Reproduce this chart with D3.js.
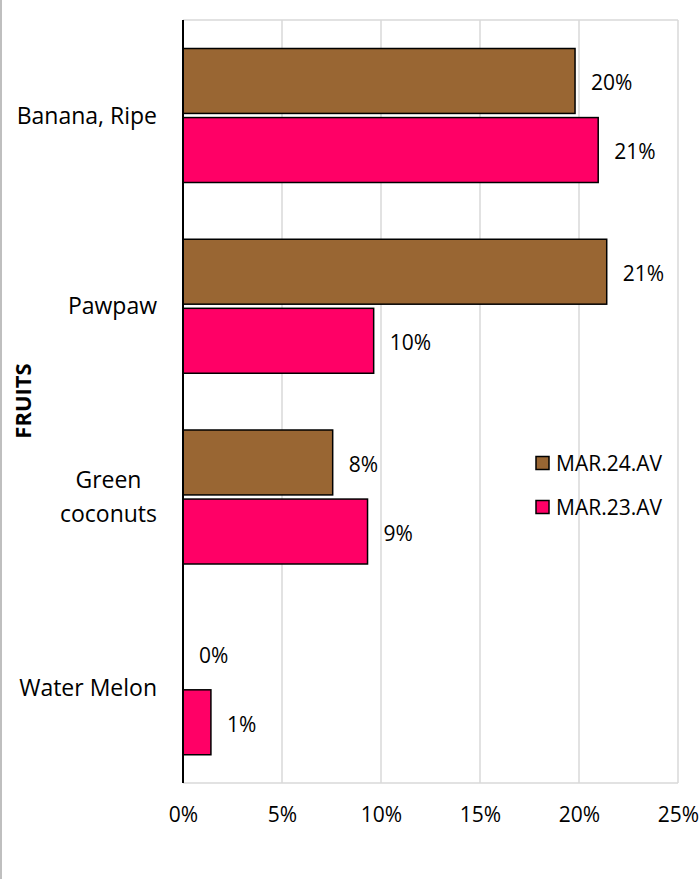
<!DOCTYPE html>
<html>
<head>
<meta charset="utf-8">
<script src="https://cdn.jsdelivr.net/npm/d3@7"></script>
<style>
  html, body { margin: 0; padding: 0; background: #fff; }
  svg { display: block; font-family: "Open Sans", "Noto Sans", sans-serif; }
</style>
</head>
<body>
<svg id="chart"></svg>
<script>
// fruits chart — MAR.24.AV vs MAR.23.AV, horizontal grouped bars

const CATEGORIES = ['Banana, Ripe', 'Pawpaw', 'Green coconuts', 'Water Melon'];
const CAT_LINES = [['Banana, Ripe'], ['Pawpaw'], ['Green', 'coconuts'], ['Water Melon']];
const SERIES = ['MAR.24.AV', 'MAR.23.AV'];
const MAR24 = [0.198, 0.214, 0.0756, 0.0];
const MAR23 = [0.2097, 0.0963, 0.0932, 0.0141];
const LABELS24 = ['20%', '21%', '8%', '0%'];
const LABELS23 = ['21%', '10%', '9%', '1%'];
const X_TICKS = [0, 0.05, 0.10, 0.15, 0.20, 0.25];
const COLORS = { 'MAR.24.AV': '#996633', 'MAR.23.AV': '#ff0066' };

const W = 700, H = 879;
const svg = d3.select('#chart').attr('width', W).attr('height', H);

// outer frame: only the left edge is visible in the reference
svg.append('line').attr('x1', 1).attr('x2', 1).attr('y1', 0).attr('y2', H)
    .attr('stroke', '#bfbfbf').attr('stroke-width', 2);

const x = d3.scaleLinear().domain([0, 0.25]).range([183, 678]);
const y0 = d3.scaleBand().domain(CATEGORIES).range([20, 783]);
const y1 = d3.scaleBand().domain(SERIES).range([28.5, 162.5]).paddingInner(0.06);

// ── Gridlines & plot border ─────────────────────────────────────────────
const grid = svg.append('g');
grid.selectAll('line.v').data(X_TICKS.slice(1)).join('line')
    .attr('x1', d => x(d)).attr('x2', d => x(d))
    .attr('y1', y0.range()[0]).attr('y2', y0.range()[1])
    .attr('stroke', '#d9d9d9').attr('stroke-width', 1.5);
grid.append('line')
    .attr('x1', x(0)).attr('x2', x(0.25)).attr('y1', 20).attr('y2', 20)
    .attr('stroke', '#d9d9d9').attr('stroke-width', 1.5);
grid.append('line')
    .attr('x1', x(0)).attr('x2', x(0.25)).attr('y1', 783).attr('y2', 783)
    .attr('stroke', '#d9d9d9').attr('stroke-width', 1.5);

// ── Bars ────────────────────────────────────────────────────────────────
const rows = [];
CATEGORIES.forEach((c, i) => {
    rows.push({ cat: c, s: 'MAR.24.AV', v: MAR24[i], label: LABELS24[i] });
    rows.push({ cat: c, s: 'MAR.23.AV', v: MAR23[i], label: LABELS23[i] });
});

svg.append('g').selectAll('rect').data(rows.filter(d => d.v > 0)).join('rect')
    .attr('x', x(0))
    .attr('y', d => y0(d.cat) + y1(d.s))
    .attr('width', d => x(d.v) - x(0))
    .attr('height', y1.bandwidth())
    .attr('fill', d => COLORS[d.s])
    .attr('stroke', '#000').attr('stroke-width', 1.5);

svg.append('g').selectAll('text').data(rows).join('text')
    .attr('x', d => x(d.v) + 16)
    .attr('y', d => y0(d.cat) + y1(d.s) + y1.bandwidth() / 2)
    .attr('dy', '0.45em')
    .attr('font-size', 21)
    .attr('fill', '#000')
    .text(d => d.label);

// ── Axes ────────────────────────────────────────────────────────────────
svg.append('line').attr('x1', x(0)).attr('x2', x(0)).attr('y1', 20).attr('y2', 783)
    .attr('stroke', '#000').attr('stroke-width', 2);

const xAxis = svg.append('g').attr('transform', 'translate(0,783)')
    .call(d3.axisBottom(x).tickValues(X_TICKS).tickFormat(d3.format('.0%')).tickSize(0).tickPadding(24));
xAxis.select('.domain').remove();
xAxis.selectAll('text').attr('font-size', 21).attr('fill', '#000').attr('font-family', '"Open Sans", sans-serif');

// category labels: single lines right-aligned, wrapped block centred like Excel
const catG = svg.append('g');
const LABEL_RIGHT = 157;
CATEGORIES.forEach((c, i) => {
    const lines = CAT_LINES[i];
    const cy = y0(c) + y0.bandwidth() / 2;
    const lh = 34;
    const texts = lines.map((ln, j) => catG.append('text')
        .attr('y', cy + (j - (lines.length - 1) / 2) * lh)
        .attr('dy', '0.36em')
        .attr('font-size', 23)
        .text(ln));
    const maxW = d3.max(texts, t => t.node().getComputedTextLength());
    texts.forEach(t => t.attr('x', LABEL_RIGHT - maxW / 2).attr('text-anchor', 'middle'));
});

svg.append('text')
    .attr('transform', 'translate(23,401) rotate(-90)')
    .attr('text-anchor', 'middle')
    .attr('dy', '0.36em')
    .attr('font-size', 22).attr('font-weight', 'bold')
    .text('FRUITS');

// ── Legend ──────────────────────────────────────────────────────────────
const leg = svg.append('g');
SERIES.forEach((s, i) => {
    const ly = 463 + i * 44;
    leg.append('rect').attr('x', 536).attr('y', ly - 6.5).attr('width', 13).attr('height', 13)
        .attr('fill', COLORS[s]).attr('stroke', '#000').attr('stroke-width', 1.5);
    leg.append('text').attr('x', 556).attr('y', ly).attr('dy', '0.36em')
        .attr('font-size', 21).text(s);
});
</script>
</body>
</html>
